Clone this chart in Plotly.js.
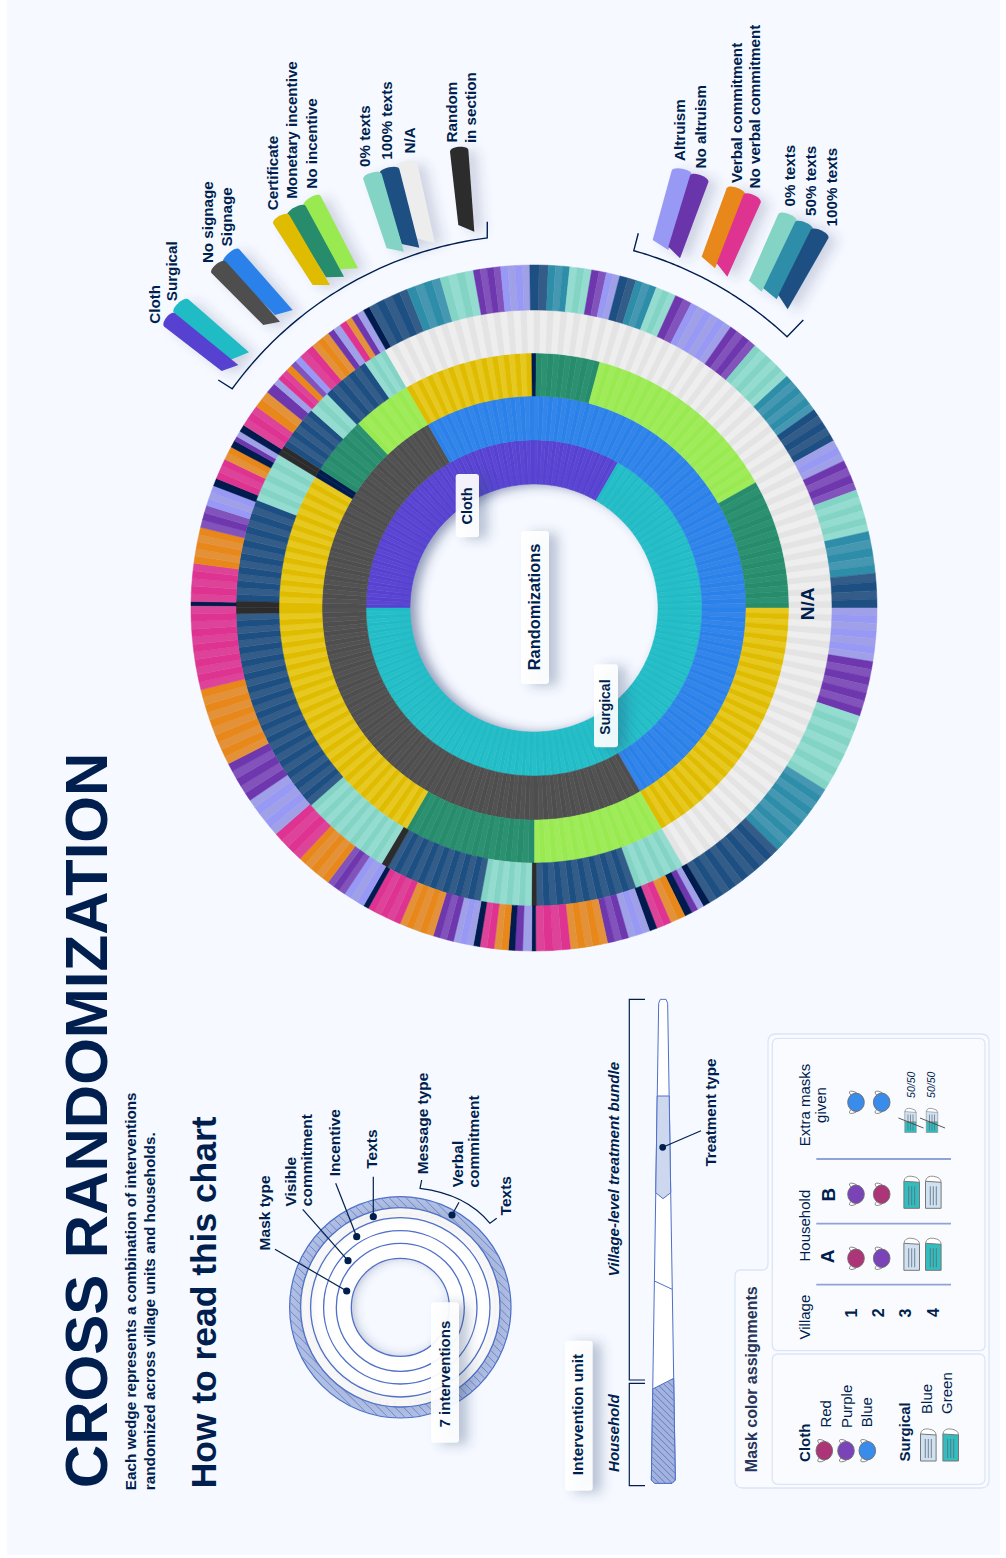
<!DOCTYPE html>
<html><head><meta charset="utf-8">
<script src="https://cdn.plot.ly/plotly-3.0.1.min.js"></script>
<style>html,body{margin:0;padding:0;background:#fff}#chart{width:1006px;height:1558px}</style>
</head><body><div id="chart"></div>
<script>
// ---------- DATA: rings, read clockwise from 12 o'clock, in degrees ----------
const ringEdges = [124,168,212,255,298,343];
const ring1Start = 270;
const ring1Cats = ['Cloth','Surgical'];
const ring1Ends = [390,630];
const ring2Start = 270;
const ring2Cats = ['No signage','Signage','No signage'];
const ring2Ends = [330,510,630];
const ring3Start = 270;
const ring3Cats = ['Certificate','Navy','Monetary','NoInc','Certificate','Navy','Monetary','NoInc','Monetary','Certificate','NoInc','Monetary','Certificate'];
const ring3Ends = [301,303,316.4,330,359.5,360.5,375,420.5,450,510,540,570,630];
const ring4Start = 271.3;
const ring4Cats = ['T100','T0','Random','T100','T0','T100','T0','NA','T0','T100','Random','T0','T100','Random','T0','T100','Random'];
const ring4Ends = [291.3,301,303,311.6,316,325.4,330,510,520,539.5,540.5,550.4,569.4,570.8,588.5,628.9,631.3];
const ring5Start = 270.3;
const ring5Cats = ['Navy','V','O','P','L','Navy','V','O','Navy','P','L','Navy','V','O','P','L','V','O','P','L','V','O','P','L','V','O','P','L','Navy',
 'T100','T50','T0','P','L','T100','T50','T0','P','L','T100','T50','T0','P','L','P','T0','T50','T100','L','P','T0','T50','T100','L','P','T0','T50','T100',
 'Navy','L','P','Navy','O','V','Navy','L','P','O','V','Navy','L','P','Navy','O','V','Navy','L','P','O','V','Navy','L','P','O','V','L','P','O','V'];
const ring5Ends = [271.1,277.5,283.6,287.4,290.9,292.2,295.7,298,299.2,300,301,302.2,306,309,310.8,311.9,313.9,315,316,317.1,319.8,323.2,324.3,325.6,326.8,327.9,329,330.2,331.3,
 338.3,344.1,349.8,354.4,359.3,362.4,366,369.7,372.2,374.5,377.3,380.9,384.4,387.3,395,400.1,407.5,414.7,420.8,424.6,429.9,437.1,444.2,450,459,468.4,482,494.8,509.2,
 510.4,511.5,512.6,513.9,516.5,519,520.3,524,527.6,533.9,539.7,540.4,541.9,543.2,544.3,546.7,549.1,550.2,553.6,557.1,563,568.9,569.8,573.5,576.9,583,588.8,595.9,603,616.2,630.3];

// dark/light tone of every category
const tones = {
 Cloth:['#5641D0','#5A46D3'], Surgical:['#1FBCC6','#27BEC8'],
 'No signage':['#4E4E4E','#525252'], Signage:['#2A81EA','#3385E9'],
 Certificate:['#DFBC00','#E7C820'], Monetary:['#268C6C','#2C9170'], NoInc:['#98EA50','#9FEB5A'],
 T0:['#84D4C6','#94DCD0'], T50:['#2E8DA8','#4698B2'], T100:['#1D4F82','#335D88'],
 NA:['#E4E4E4','#EEEEEE'], Random:['#2C2C2C','#2C2C2C'], Navy:['#001B4D','#001B4D'],
 L:['#9898F5','#A0A0E8'], P:['#6E37AE','#8153BB'], O:['#E8881A','#E3923A'], V:['#DE3390','#DD4499']
};
const stripeDeg = 1.3;
const ink = '#001F4E';
const bg = '#F6F9FF';
const font = 'Liberation Sans, Arial, sans-serif';
const C = [534,608];

function ringTrace(start,cats,ends,inner,outer){
  const theta=[],width=[],color=[];let a=start,idx=0;
  cats.forEach((c,i)=>{
    const span=ends[i]-a,n=Math.max(1,Math.round(span/stripeDeg)),w=span/n;
    for(let k=0;k<n;k++){theta.push((a+(k+.5)*w)%360);width.push(w);color.push(tones[c][idx++%2]);}
    a=ends[i];
  });
  return {type:'barpolar',subplot:'polar',theta,width,base:theta.map(()=>inner),r:theta.map(()=>outer-inner),
    marker:{color,line:{color,width:.5}},hoverinfo:'skip',showlegend:false};
}
const traces=[
 ringTrace(ring1Start,ring1Cats,ring1Ends,ringEdges[0],ringEdges[1]),
 ringTrace(ring2Start,ring2Cats,ring2Ends,ringEdges[1],ringEdges[2]),
 ringTrace(ring3Start,ring3Cats,ring3Ends,ringEdges[2],ringEdges[3]),
 ringTrace(ring4Start,ring4Cats,ring4Ends,ringEdges[3],ringEdges[4]),
 ringTrace(ring5Start,ring5Cats,ring5Ends,ringEdges[4],ringEdges[5])
];

// ---------- decoration helpers (page coordinates via hidden x/y axes) ----------
const shapes=[],shadowIdx=[],annotations=[];
const S=(o)=>{shapes.push(Object.assign({xref:'x',yref:'y',line:{width:0}},o));return shapes.length-1;};
const P=(d,fill,o={})=>S(Object.assign({type:'path',path:d,fillcolor:fill,layer:'above'},o));
const L=(pts,col,w=1.3,o={})=>S(Object.assign({type:'path',layer:'above',path:'M'+pts.map(p=>p.join(',')).join('L'),line:{color:col,width:w},fillcolor:'rgba(0,0,0,0)'},o));
const circ=(cx,cy,r,fill,lc,lw=0,o={})=>S(Object.assign({type:'circle',x0:cx-r,x1:cx+r,y0:cy-r,y1:cy+r,fillcolor:fill,layer:'above',line:{color:lc||'rgba(0,0,0,0)',width:lw}},o));
const rr=(x0,y0,x1,y1,r)=>`M${x0+r},${y0}L${x1-r},${y0}Q${x1},${y0} ${x1},${y0+r}L${x1},${y1-r}Q${x1},${y1} ${x1-r},${y1}L${x0+r},${y1}Q${x0},${y1} ${x0},${y1-r}L${x0},${y0+r}Q${x0},${y0} ${x0+r},${y0}Z`;
const shadow=(d,col='rgba(50,70,120,.30)')=>{shadowIdx.push(P(d,col));};
const T=(text,x,y,size,o={})=>annotations.push(Object.assign({text,x:x-.8,y,xref:'x',yref:'y',showarrow:false,textangle:-90,borderpad:0,borderwidth:0,
  xanchor:'center',yanchor:'bottom',align:'left',font:{family:font,size,color:o.color||ink,weight:o.weight===undefined?700:o.weight,style:o.style||'normal'}},o.a||{}));
const card=(x0,y0,x1,y1,fill='rgba(255,255,255,.93)')=>{shadow(rr(x0+9,y0+2,x1+9,y1+2,4));P(rr(x0,y0,x1,y1,3),fill);};

// page background
S({type:'rect',x0:7,y0:0,x1:1000,y1:1555,fillcolor:bg,layer:'below'});
// hub shadow
shadowIdx.push(S({type:'circle',x0:C[0]+7-134,x1:C[0]+7+134,y0:C[1]+1-134,y1:C[1]+1+134,fillcolor:'rgba(0,0,0,0)',layer:'below',line:{color:'rgba(60,75,125,.55)',width:20}}));

// ---------- legend chips ----------
function chip(a,b,c,d,col){
  const mt=[(a[0]+b[0])/2,(a[1]+b[1])/2],mb=[(c[0]+d[0])/2,(c[1]+d[1])/2];
  const l=Math.hypot(mt[0]-mb[0],mt[1]-mb[1]),h=5.5;
  const n=[(mt[0]-mb[0])/l*h,(mt[1]-mb[1])/l*h];
  return {d:`M${a}C${a[0]+n[0]},${a[1]+n[1]} ${b[0]+n[0]},${b[1]+n[1]} ${b}L${c}L${d}Z`,col};
}
const z5=(x,y)=>[130+x/3,20+y/3], z6=(x,y)=>[620+x/3,20+y/3];
const chipSets=[
 [chip(z5(132,878),z5(175,838),z5(357,997),z5(300,1020),tones.Surgical[0]), chip(z5(103,920),z5(135,880),z5(325,1035),z5(275,1053),tones.Cloth[0])],
 [chip(z5(280,730),z5(328,688),z5(488,870),z5(435,885),tones.Signage[0]), chip(z5(245,760),z5(288,725),z5(450,905),z5(400,915),tones['No signage'][0])],
 [chip(z5(520,560),z5(572,528),z5(684,745),z5(630,748),tones.NoInc[0]), chip(z5(472,588),z5(527,558),z5(642,770),z5(588,772),tones.Monetary[0]), chip(z5(430,612),z5(478,585),z5(600,795),z5(548,795),tones.Certificate[0])],
 [chip(z5(800,440),z5(862,430),z5(915,670),z5(860,655),'#EDEDED'), chip(z5(748,462),z5(808,447),z5(868,683),z5(815,672),tones.T100[0]), chip(z5(700,478),z5(755,462),z5(822,695),z5(770,685),tones.T0[0])],
 [chip(z5(960,395),z5(1015,390),z5(1033,635),z5(985,615),tones.Random[0])],
 [chip(z6(155,452),z6(215,465),z6(145,690),z6(98,660),tones.L[0]), chip(z6(210,467),z6(265,487),z6(180,715),z6(145,680),'#6A35AA')],
 [chip(z6(320,505),z6(375,525),z6(285,745),z6(245,710),tones.O[0]), chip(z6(370,525),z6(422,548),z6(322,770),z6(290,730),tones.V[0])],
 [chip(z6(475,582),z6(530,605),z6(425,815),z6(387,782),tones.T0[0]), chip(z6(525,607),z6(578,630),z6(470,838),z6(430,805),tones.T50[0]), chip(z6(572,630),z6(625,655),z6(503,868),z6(475,825),tones.T100[0])]
];
chipSets.forEach(set=>{
  set.forEach(c=>shadow(c.d.replace(/(-?[\d.]+),(-?[\d.]+)/g,(m,x,y)=>`${+x+9},${+y+3}`),'rgba(50,70,120,.20)'));
  set.forEach(c=>P(c.d,c.col));
});

// legend labels
[['Cloth',155,324],['Surgical',172,301],['No signage',208.2,262.7],['Signage',227,246.7],['Certificate',273,210],['Monetary incentive',291.6,199],['No incentive',311.5,189],
 ['0% texts',365.5,167.3],['100% texts',387,160],['N/A',410,153.3],['Random',452,142.7],['in section',470.7,142.7],
 ['Altruism',680,160.7],['No altruism',701,168.3],['Verbal commitment',737,182.7],['No verbal commitment',754.3,189],['0% texts',790.5,206.7],['50% texts',811,215.7],['100% texts',832,226.7]
].forEach(t=>T(t[0],t[1],t[2],15.2));

// brackets round the wheel
function arcPts(r,a0,a1,cx=C[0],cy=C[1]){const p=[];const n=60;for(let i=0;i<=n;i++){const a=(a0+(a1-a0)*i/n)*Math.PI/180;p.push([cx+r*Math.sin(a),cy-r*Math.cos(a)]);}return p;}
L([[218.3,380],...arcPts(373,306,352.8),[487.3,221.7]],ink,1.4);
L([[638.3,233.3],...arcPts(371,15.6,43),[803.3,320]],ink,1.4);

// wheel labels
card(455.7,474,479,537.3); T('Cloth',467.3,506,14.5,{a:{yanchor:'middle'}});
card(521,531,549,684); T('Randomizations',534.6,606.5,16.4,{a:{yanchor:'middle'}});
card(594,664.3,618,747.3,'rgba(255,255,255,.92)'); T('Surgical',605.5,707,14,{a:{yanchor:'middle'}});
T('N/A',808.5,603.5,19,{a:{yanchor:'middle'}});

// ---------- headline ----------
T('CROSS RANDOMIZATION',87,1488,60);
T('Each wedge represents a combination of interventions',131,1490,15.3);
T('randomized across village units and households.',150,1490,15.3);
T('How to read this chart',205,1488,35.4);

// ---------- how to read: mini wheel ----------
const M=[400.3,1307.3], miniBlue='#4F70C8';
function hatchAnnulus(cx,cy,rOut,rIn,step){
  let d='';const s=Math.SQRT1_2;
  for(let c=-rOut;c<=rOut;c+=step){
    const tO=Math.sqrt(rOut*rOut-c*c);const nx=s,ny=-s,dx=s,dy=s;
    const pt=t=>`${cx+c*nx+t*dx},${cy+c*ny+t*dy}`;
    if(Math.abs(c)<rIn){const tI=Math.sqrt(rIn*rIn-c*c);d+=`M${pt(-tO)}L${pt(-tI)}M${pt(tI)}L${pt(tO)}`;}
    else d+=`M${pt(-tO)}L${pt(tO)}`;
  }
  return d;
}
circ(M[0],M[1],110.7,'#B0BFE4',miniBlue,1.2);
P(hatchAnnulus(M[0],M[1],110.5,99.7,6),'rgba(0,0,0,0)',{line:{color:'#6F8AD0',width:1}});
circ(M[0],M[1],99.7,'#FFFFFF',miniBlue,1);
circ(M[0],M[1],49,bg);
shadowIdx.push(circ(M[0]+3,M[1],56,'rgba(0,0,0,0)','rgba(60,75,125,.5)',9));
circ(M[0],M[1],74.5,'rgba(0,0,0,0)','#FFFFFF',51);
shadowIdx.push(circ(M[0]+2,M[1],97,'rgba(0,0,0,0)','rgba(60,60,60,.18)',4));
[99.7,89.7,76.7,64,49].forEach(r=>circ(M[0],M[1],r,'rgba(0,0,0,0)',miniBlue,1.3));
[[[275,1249.3],[346.7,1291]],[[302.7,1209.3],[348,1260.7]],[[335.7,1183.3],[356.7,1236.7]],[[373.3,1176.7],[373.3,1216.7]]].forEach(s=>{L(s,ink,1.2);circ(s[1][0],s[1][1],3.6,ink);});
P('M421.7,1180L420,1188.3Q466,1194 490,1223.3L496.7,1218.3','rgba(0,0,0,0)',{line:{color:ink,width:1.2}});
L([[459,1202.3],[452,1215]],ink,1.2); circ(452,1215,3.6,ink);
[['Mask type',265,1250.7],['Visible',291.7,1206.7],['commitment',307.3,1206.7],['Incentive',335,1176],['Texts',372,1169],['Message type',422.7,1174.3],['Verbal',458.3,1187.3],['commitment',474,1187.3],['Texts',506.7,1215]]
 .forEach(t=>T(t[0],t[1],t[2],15.5));
card(431,1302.3,459,1442.7); T('7 interventions',445,1427.7,15);

// ---------- how to read: single wedge ----------
const b=(zx,zy)=>[550+zx/3,990+zy/3];
const wL=zy=>326+(304-326)*(zy-28)/(1480-28), wR=zy=>353+(376-353)*(zy-28)/(1480-28);
const poly=(pts)=>'M'+pts.map(p=>p.join(',')).join('L')+'Z';
P(poly([b(wL(28),40),b(wL(28)+5,28),b(wR(28)-5,28),b(wR(28),40),b(wR(1480),1470),b(wR(1480)-10,1480),b(wL(1480)+10,1480),b(wL(1480),1470)]),'#FFFFFF',{line:{color:miniBlue,width:1}});
P(poly([b(wL(318),318),b(wR(318),318),b(wR(608),608),b(339,626),b(wL(608),608)]),'#CDD8EE',{line:{color:miniBlue,width:1}});
L([b(wL(873),873),b(wR(898),898)],miniBlue,1);
const hatchPoly=[b(wL(1197),1197),b(wR(1165),1165),b(wR(1470),1470),b(wR(1480)-10,1480),b(wL(1480)+10,1480),b(wL(1470),1470)];
P(poly(hatchPoly),'#A3B3DE',{line:{color:miniBlue,width:1}});
(function(){
  let d='';const n=hatchPoly.length;
  for(let c=-900;c<900;c+=6.5){ // lines y-x = c
    const off=hatchPoly[0][1]-hatchPoly[0][0]+c;let ts=[];
    for(let i=0;i<n;i++){const A=hatchPoly[i],B=hatchPoly[(i+1)%n];const fa=A[1]-A[0]-off,fb=B[1]-B[0]-off;
      if(fa*fb<0){const t=fa/(fa-fb);ts.push([A[0]+(B[0]-A[0])*t,A[1]+(B[1]-A[1])*t]);}}
    if(ts.length===2)d+=`M${ts[0]}L${ts[1]}`;
  }
  P(d,'rgba(0,0,0,0)',{line:{color:'#5F7CC8',width:1}});
})();
L([[645,999.3],[629.3,999.3],[629.3,1380],[645,1380]],ink,1.2);
L([[645,1383.3],[629.3,1383.3],[629.3,1485.7],[645,1485.7]],ink,1.2);
L([[701,1130.7],[662.7,1147.3]],ink,1.2); circ(662.7,1147.3,3.4,ink);
card(565,1340.7,592.7,1490.7); T('Intervention unit',578.5,1475,15.5);
T('Household',614,1471.7,15,{style:'italic'});
T('Village-level treatment bundle',614,1276.7,15.2,{style:'italic'});
T('Treatment type',711.7,1166.7,15.2);

// ---------- mask colour panel ----------
const edge='#DCE5F7',panel='#FAFBFF';
P(`M741,1270L762,1270Q768,1270 768,1264L768,1042Q768,1034 776,1034L981,1034Q989,1034 989,1042L989,1480Q989,1488 981,1488L743,1488Q735,1488 735,1480L735,1276Q735,1270 741,1270Z`,panel,{line:{color:edge,width:1.3}});
P(rr(772.3,1038.3,985,1350.7,6),'#FAFBFF',{line:{color:edge,width:1.3}});
P(rr(772.3,1354,985,1484.3,6),'#FAFBFF',{line:{color:edge,width:1.3}});
T('Mask color assignments',751.7,1472.3,16,{color:'#27365A'});
[1159,1223.7,1284.7].forEach(y=>L([[816.3,y],[951,y]],'#8EA3D8',1.8));
T('Extra masks',805,1105,15,{weight:400,a:{yanchor:'middle'}});
T('given',820.7,1105,15,{weight:400,a:{yanchor:'middle'}});
T('Household',805,1225.3,15,{weight:400,a:{yanchor:'middle'}});
T('Village',805,1317.3,15,{weight:400,a:{yanchor:'middle'}});
T('A',828.3,1256.7,19,{a:{yanchor:'middle'}});
T('B',828.3,1195,19,{a:{yanchor:'middle'}});
[['1',852.7],['2',879.3],['3',906.7],['4',934]].forEach(t=>T(t[0],t[1],1312.7,16,{a:{yanchor:'middle'}}));
T('50/50',911.7,1085,10.5,{weight:400,style:'italic',a:{yanchor:'middle'}});
T('50/50',931.7,1085,10.5,{weight:400,style:'italic',a:{yanchor:'middle'}});

const maskCols={red:'#AC3577',purple:'#7A44B8',blue:'#3A8CEA',green:'#33BDBF',pale:'#D0E2F1'};
function cloth(x,y,col){
  const g='#6B6B6B';
  P(`M${x-5},${y-7}Q${x-9},${y-12} ${x-3},${y-11}Q${x+1},${y-10} ${x+2},${y-8}`,'#FFFFFF',{line:{color:g,width:.8}});
  P(`M${x-5},${y+7}Q${x-9},${y+12} ${x-3},${y+11}Q${x+1},${y+10} ${x+2},${y+8}`,'#FFFFFF',{line:{color:g,width:.8}});
  S({type:'circle',x0:x-8.3,x1:x+8.3,y0:y-9.2,y1:y+9.2,fillcolor:col,layer:'above',line:{color:g,width:.9}});
}
function surgical(x,y,col,h=30,w=15.6){
  const g='#777777',x0=x-w/2,x1=x+w/2,y0=y-h/2,y1=y+h/2;
  P(`M${x0},${y0+3}Q${x0+1},${y0-3} ${x0+8},${y0-2}Q${x1},${y0-1} ${x1},${y0+4}`,'#FFFFFF',{line:{color:g,width:.8}});
  P(`M${x0},${y0+3}L${x1},${y0+4}L${x1},${y1}L${x0},${y1}Z`,col,{line:{color:g,width:1}});
  [-3,0,3].forEach(dx=>L([[x+dx,y0+8],[x+dx,y1-3]],'#5C6A78',.8));
}
function half(x,y){
  const w=11.5,h=23,x0=x-w/2,x1=x+w/2,y0=y-h/2,y1=y+h/2,m=y+1;
  P(`M${x0},${y0+2}Q${x0+1},${y0-2} ${x0+6},${y0-1}Q${x1},${y0} ${x1},${y0+3}`,'#FFFFFF',{line:{color:'#777',width:.7}});
  P(`M${x0},${y0+2}L${x1},${y0+3}L${x1},${m}L${x0},${m}Z`,maskCols.pale,{line:{color:'#888',width:.6}});
  P(`M${x0},${m}L${x1},${m}L${x1},${y1}L${x0},${y1}Z`,maskCols.green,{line:{color:'#888',width:.6}});
  [-2.5,0,2.5].forEach(dx=>L([[x+dx,y0+5],[x+dx,y1-2]],'#5C6A78',.7));
  L([[x-12,y-3],[x+13,y+7]],'#444',.9);
}
[[856,1102.3,'blue'],[881.7,1102.3,'blue'],[856,1194.3,'purple'],[881.7,1194.3,'red'],[856,1258.3,'red'],[881.7,1258.3,'purple'],
 [824.3,1450.7,'red'],[846,1450.7,'purple'],[867.3,1450.7,'blue']].forEach(m=>cloth(m[0],m[1],maskCols[m[2]]));
[[911.7,1193.3,'green'],[933.3,1193.3,'pale'],[911.7,1255.3,'pale'],[933.3,1255.3,'green'],[928.3,1446,'pale'],[950.7,1446,'green']].forEach(m=>surgical(m[0],m[1],maskCols[m[2]]));
half(910.5,1121); half(932,1121);
T('Cloth',805,1461.7,15);
T('Red',826.7,1427.7,15,{weight:400});
T('Purple',846.7,1427.7,15,{weight:400});
T('Blue',867.3,1427.7,15,{weight:400});
T('Surgical',905,1461.7,15);
T('Blue',926.7,1414,15,{weight:400});
T('Green',946.7,1414,15,{weight:400});

// ---------- layout ----------
const Rmax=400,W=1006,H=1558;
traces.push({type:'scatter',x:[0],y:[0],mode:'markers',marker:{opacity:0},hoverinfo:'skip',showlegend:false,xaxis:'x',yaxis:'y'});
const layout={width:W,height:H,margin:{l:0,r:0,t:0,b:0,pad:0},paper_bgcolor:'#FFFFFF',plot_bgcolor:'rgba(0,0,0,0)',showlegend:false,
 xaxis:{range:[0,W],visible:false,fixedrange:true,domain:[0,1]},
 yaxis:{range:[H,0],visible:false,fixedrange:true,domain:[0,1]},
 polar:{domain:{x:[(C[0]-Rmax)/W,(C[0]+Rmax)/W],y:[1-(C[1]+Rmax)/H,1-(C[1]-Rmax)/H]},bgcolor:'rgba(0,0,0,0)',bargap:0,barmode:'overlay',
   radialaxis:{range:[0,Rmax],visible:false},angularaxis:{visible:false,direction:'clockwise',rotation:90}},
 shapes,annotations};
Plotly.newPlot('chart',traces,layout,{staticPlot:true,displayModeBar:false}).then(()=>{
  const NS='http://www.w3.org/2000/svg';
  document.querySelectorAll('.shapelayer path').forEach(el=>{
    if(shadowIdx.includes(+el.getAttribute('data-index'))){
      const svg=el.ownerSVGElement;
      if(!svg.querySelector('#softblur')){
        const f=document.createElementNS(NS,'filter');f.setAttribute('id','softblur');f.setAttribute('filterUnits','userSpaceOnUse');
        f.setAttribute('x',0);f.setAttribute('y',0);f.setAttribute('width',W);f.setAttribute('height',H);
        const g=document.createElementNS(NS,'feGaussianBlur');g.setAttribute('stdDeviation',6);f.appendChild(g);
        (svg.querySelector('defs')||svg).appendChild(f);
      }
      el.setAttribute('filter','url(#softblur)');
    }
  });
});
</script></body></html>
